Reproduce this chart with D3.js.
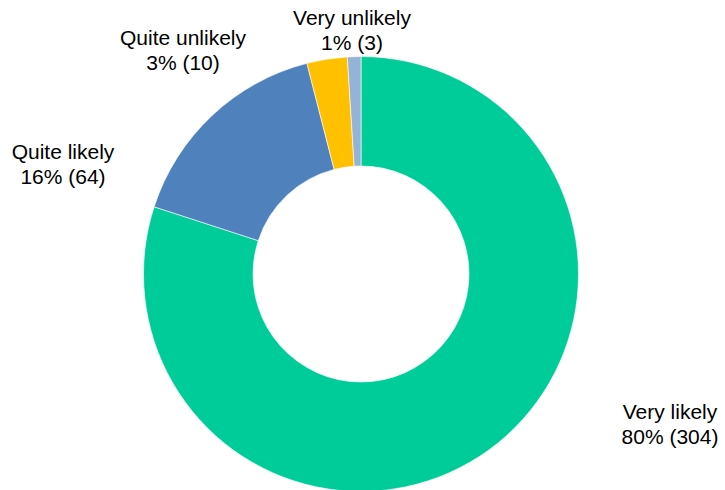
<!DOCTYPE html>
<html>
<head>
<meta charset="utf-8">
<script src="https://cdn.jsdelivr.net/npm/d3@7"></script>
<style>
  body { margin: 0; background: #fff; }
  text { font-family: "Liberation Sans", Arial, sans-serif; fill: #000; }
</style>
</head>
<body>
<svg id="chart" width="725" height="490"></svg>
<script>
// answers, in drawing order (clockwise from 12 o'clock)
var categories = ["Very likely", "Quite likely", "Quite unlikely", "Very unlikely"];
var counts = [304, 64, 10, 3];
// slices are sized by the rounded percentages shown on the labels
var percents = [80, 16, 3, 1];
var colours = ["#00CC99", "#4F81BD", "#FFC000", "#95B3D7"];

// where each label sits (centre x, first baseline y)
var labelPos = [[670, 419], [63, 159], [183, 45], [352, 25]];

var W = 725, H = 490;
var cx = 361, cy = 274;
var outerR = 217.5, innerR = 108;

var svg = d3.select("#chart");

var pie = d3.pie().sort(null).value(function(d) { return d; });
var arc = d3.arc().innerRadius(innerR).outerRadius(outerR);

var g = svg.append("g").attr("transform", "translate(" + cx + "," + cy + ")");

g.selectAll("path")
    .data(pie(percents))
    .enter()
    .append("path")
    .attr("d", arc)
    .attr("fill", function(d, i) { return colours[i]; })
    .attr("stroke", "#fff")
    .attr("stroke-width", 0.6);

// two-line labels: name, then "pct (count)"
var labels = svg.selectAll("text.lbl")
    .data(categories)
    .enter()
    .append("text")
    .attr("class", "lbl")
    .attr("text-anchor", "middle")
    .attr("font-size", "21px");

labels.append("tspan")
    .attr("x", function(d, i) { return labelPos[i][0]; })
    .attr("y", function(d, i) { return labelPos[i][1]; })
    .text(function(d) { return d; });

labels.append("tspan")
    .attr("x", function(d, i) { return labelPos[i][0]; })
    .attr("y", function(d, i) { return labelPos[i][1] + 24.5; })
    .text(function(d, i) { return percents[i] + "% (" + counts[i] + ")"; });
</script>
</body>
</html>
